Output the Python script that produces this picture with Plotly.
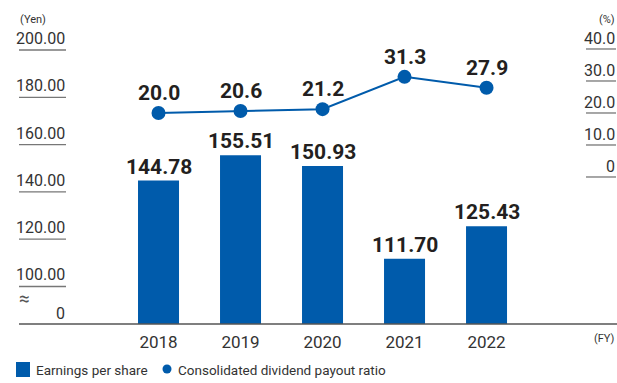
import plotly.graph_objects as go

# Fiscal-year EPS (yen) and consolidated dividend payout ratio (%)
years = ["2018", "2019", "2020", "2021", "2022"]
eps = [144.78, 155.51, 150.93, 111.70, 125.43]
payout = [20.0, 20.6, 21.2, 31.3, 27.9]

eps_ticks = [100, 120, 140, 160, 180, 200]
eps_tick_labels = ["100.00", "120.00", "140.00", "160.00", "180.00", "200.00"]
payout_ticks = [0, 10, 20, 30, 40]
payout_tick_labels = ["0", "10.0", "20.0", "30.0", "40.0"]

legend_labels = ["Earnings per share", "Consolidated dividend payout ratio"]

W, H = 617, 383
PLOT_BOTTOM = 59
BLUE = "#005bab"
INK = "#231f20"
GREY = "#333333"
RULE = "#777777"
FONT = "Roboto, Liberation Sans, Arial, sans-serif"
BOLD_FONT = "Roboto, Liberation Sans, Arial, sans-serif"

# broken left axis: the visible window starts well above zero
EPS_RANGE = [84.14, 221.14]
PAYOUT_RANGE = [-45.94, 55.31]
X_RANGE = [-1.933, 5.591]


def px_x(p):
    return p / W


def px_y(p):
    return (H - PLOT_BOTTOM - p) / (H - PLOT_BOTTOM)


xs = list(range(len(years)))

fig = go.Figure()
fig.add_bar(
    x=xs, y=eps, width=0.5, marker=dict(color=BLUE, line=dict(width=0)),
    name=legend_labels[0], yaxis="y", showlegend=False,
)
fig.add_scatter(
    x=xs, y=payout, yaxis="y2", mode="lines+markers",
    line=dict(color=BLUE, width=2), marker=dict(size=14, color=BLUE),
    name=legend_labels[1], showlegend=False, cliponaxis=False,
)

shapes = []
annotations = []

# left axis tick labels with underlines
for t, lab in zip(eps_ticks, eps_tick_labels):
    shapes.append(dict(type="line", xref="paper", yref="y",
                       x0=px_x(19), x1=px_x(66), y0=t, y1=t,
                       line=dict(color=RULE, width=1.3)))
    annotations.append(dict(xref="paper", yref="y", x=px_x(67), y=t,
                            xanchor="right", yanchor="bottom", yshift=0,
                            text=lab, showarrow=False,
                            font=dict(family=FONT, size=16, color=GREY)))
annotations.append(dict(xref="paper", yref="y", x=px_x(67), y=EPS_RANGE[0],
                        xanchor="right", yanchor="bottom", yshift=-1,
                        text="0", showarrow=False,
                        font=dict(family=FONT, size=16, color=GREY)))
annotations.append(dict(xref="paper", yref="paper", x=px_x(17), y=px_y(298),
                        xanchor="left", yanchor="middle", text="≈",
                        showarrow=False,
                        font=dict(family=FONT, size=19, color="#555555")))

# right axis tick labels with underlines
for t, lab in zip(payout_ticks, payout_tick_labels):
    shapes.append(dict(type="line", xref="paper", yref="y2",
                       x0=px_x(586), x1=px_x(616), y0=t, y1=t,
                       line=dict(color=RULE, width=1.3)))
    annotations.append(dict(xref="paper", yref="y2", x=px_x(617), y=t,
                            xanchor="right", yanchor="bottom", yshift=-1,
                            text=lab, showarrow=False,
                            font=dict(family=FONT, size=16, color=GREY)))

# baseline
shapes.append(dict(type="line", xref="paper", yref="paper",
                   x0=px_x(19), x1=1, y0=0, y1=0,
                   line=dict(color="#555555", width=1.5)))

# legend drawn as swatches + captions
shapes.append(dict(type="rect", xref="paper", yref="paper",
                   x0=px_x(16), x1=px_x(30), y0=px_y(362), y1=px_y(377),
                   fillcolor=BLUE, line=dict(width=0)))
shapes.append(dict(type="circle", xref="paper", yref="paper",
                   x0=px_x(162.5), x1=px_x(171.5), y0=px_y(364.5), y1=px_y(373.5),
                   fillcolor=BLUE, line=dict(width=0)))
annotations.append(dict(xref="paper", yref="paper", x=px_x(34), y=px_y(369.5),
                        xanchor="left", yanchor="middle", text=legend_labels[0],
                        showarrow=False,
                        font=dict(family=FONT, size=13.5, color=GREY)))
annotations.append(dict(xref="paper", yref="paper", x=px_x(176), y=px_y(369.5),
                        xanchor="left", yanchor="middle", text=legend_labels[1],
                        showarrow=False,
                        font=dict(family=FONT, size=13.5, color=GREY)))

# unit captions
annotations += [
    dict(xref="paper", yref="paper", x=px_x(18), y=px_y(19), xanchor="left",
         yanchor="middle", text="(Yen)", showarrow=False,
         font=dict(family=FONT, size=11, color=GREY)),
    dict(xref="paper", yref="paper", x=px_x(617), y=px_y(19), xanchor="right",
         yanchor="middle", text="(%)", showarrow=False,
         font=dict(family=FONT, size=11, color=GREY)),
    dict(xref="paper", yref="paper", x=px_x(617), y=px_y(338), xanchor="right",
         yanchor="middle", text="(FY)", showarrow=False,
         font=dict(family=FONT, size=11, color=GREY)),
]

# value labels
for x, v in zip(xs, eps):
    annotations.append(dict(x=x, y=v, xref="x", yref="y", yanchor="bottom",
                            yshift=0, text=f"{v:.2f}", showarrow=False,
                            font=dict(family=BOLD_FONT, size=21, color=INK,
                                      weight="bold")))
for x, v in zip(xs, payout):
    annotations.append(dict(x=x, y=v, xref="x", yref="y2", yanchor="bottom",
                            yshift=6, text=f"{v:.1f}", showarrow=False,
                            font=dict(family=BOLD_FONT, size=21, color=INK,
                                      weight="bold")))

fig.update_layout(
    width=W, height=H,
    margin=dict(l=0, r=0, t=0, b=PLOT_BOTTOM, pad=0),
    paper_bgcolor="white", plot_bgcolor="white",
    font=dict(family=FONT, color=GREY),
    showlegend=False,
    xaxis=dict(range=X_RANGE, tickvals=xs, ticktext=years, showgrid=False,
               zeroline=False, showline=False, ticks="", ticklabelstandoff=6,
               tickfont=dict(family=FONT, size=17, color=GREY)),
    yaxis=dict(range=EPS_RANGE, visible=False, showgrid=False, zeroline=False),
    yaxis2=dict(range=PAYOUT_RANGE, overlaying="y", side="right", visible=False,
                showgrid=False, zeroline=False),
    shapes=shapes, annotations=annotations,
)

fig.write_html("out.html")
